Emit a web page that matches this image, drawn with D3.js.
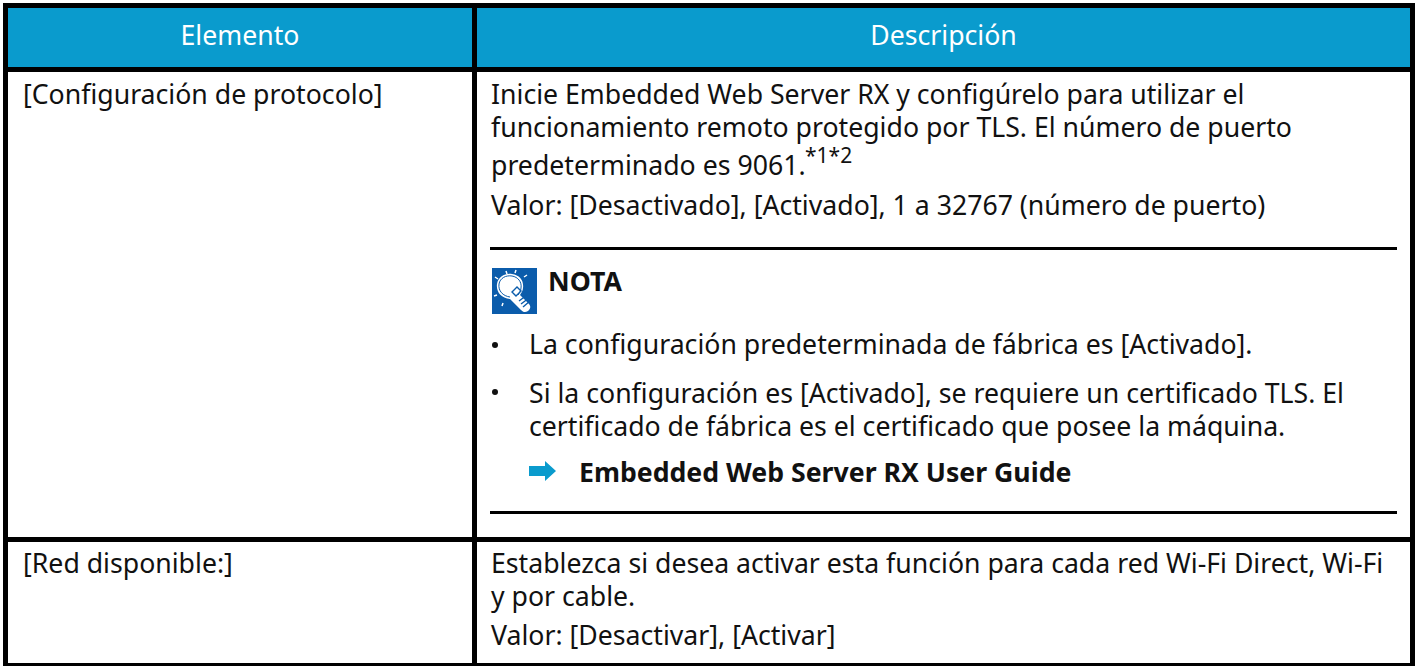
<!DOCTYPE html>
<html>
<head>
<meta charset="utf-8">
<script src="https://cdn.jsdelivr.net/npm/d3@7"></script>
<style>
html, body { margin:0; padding:0; background:#fff; }
svg { display:block; }
text { font-family:"Noto Sans", sans-serif; font-size:26.67px; fill:#111; }
</style>
</head>
<body>
<svg id="table"></svg>
<script>
// table content
var columns = ["Elemento", "Descripción"];
var rowLabels = ["[Configuración de protocolo]", "[Red disponible:]"];
var row1Lines = [
    "Inicie Embedded Web Server RX y configúrelo para utilizar el",
    "funcionamiento remoto protegido por TLS. El número de puerto",
    "predeterminado es 9061.",
    "Valor: [Desactivado], [Activado], 1 a 32767 (número de puerto)"
];
var footnoteMarks = "*1*2";
var noteTitle = "NOTA";
var noteLines = [
    "La configuración predeterminada de fábrica es [Activado].",
    "Si la configuración es [Activado], se requiere un certificado TLS. El",
    "certificado de fábrica es el certificado que posee la máquina."
];
var noteBullets = [0, 1];
var linkText = "Embedded Web Server RX User Guide";
var row2Lines = [
    "Establezca si desea activar esta función para cada red Wi-Fi Direct, Wi-Fi",
    "y por cable.",
    "Valor: [Desactivar], [Activar]"
];

var screen = {width: 1417, height: 666};
var blue = "#0a9bcd";
var svg = d3.select("#table").attr("width", screen.width).attr("height", screen.height);

var xEdge = d3.scaleOrdinal().domain(["left", "mid", "right"]).range([5.5, 474.5, 1412.5]);
var yEdge = d3.scaleOrdinal().domain(["top", "head", "row1", "bottom"]).range([5.5, 69.5, 539.5, 665.5]);

// header fill
svg.append("rect")
    .attr("x", xEdge("left")).attr("y", yEdge("top"))
    .attr("width", xEdge("right") - xEdge("left"))
    .attr("height", yEdge("head") - yEdge("top"))
    .attr("fill", blue);

// grid lines
var grid = svg.append("g").attr("stroke", "#000").attr("stroke-width", 5);
["left", "mid", "right"].forEach(function (k) {
    grid.append("line")
        .attr("x1", xEdge(k)).attr("x2", xEdge(k))
        .attr("y1", 3).attr("y2", screen.height);
});
["top", "head", "row1", "bottom"].forEach(function (k) {
    grid.append("line")
        .attr("x1", 3).attr("x2", 1415)
        .attr("y1", yEdge(k)).attr("y2", yEdge(k));
});

// header text
svg.selectAll("text.head")
    .data(columns)
    .enter()
    .append("text")
    .attr("class", "head")
    .attr("text-anchor", "middle")
    .attr("x", function (d, i) { return i == 0 ? (xEdge("left") + xEdge("mid")) / 2 : (xEdge("mid") + xEdge("right")) / 2; })
    .attr("y", 45)
    .style("fill", "#fff")
    .text(function (d) { return d; });

var drawLines = function (lines, x, y0, step) {
    svg.append("g").selectAll("text")
        .data(lines)
        .enter()
        .append("text")
        .attr("x", x)
        .attr("y", function (d, i) { return y0 + i * step; })
        .text(function (d) { return d; });
};

// first column
svg.selectAll("text.label")
    .data(rowLabels)
    .enter()
    .append("text")
    .attr("class", "label")
    .attr("x", 23)
    .attr("y", function (d, i) { return i == 0 ? 104 : 573; })
    .text(function (d) { return d; });

// row 1
drawLines(row1Lines.slice(0, 2), 491, 104, 32.5);
drawLines(row1Lines.slice(2, 3), 491, 175, 0);
drawLines(row1Lines.slice(3), 491, 215, 0);
svg.append("text").attr("x", 805).attr("y", 163).style("font-size", "21px").text(footnoteMarks);

// note rules
var rules = svg.append("g").attr("stroke", "#000").attr("stroke-width", 3);
[248.5, 512.5].forEach(function (y) {
    rules.append("line").attr("x1", 490).attr("x2", 1397).attr("y1", y).attr("y2", y);
});

// note icon
var icon = svg.append("g").attr("transform", "translate(492,268)");
icon.append("rect").attr("width", 45).attr("height", 46).attr("fill", "#0b5cab");
icon.append("path")
    .attr("d", "M18 31 C9 30 4 24 5 16 C6 9 13 5 20 6 C28 7 32 13 31 20 C31 23 29 25 28 27 L36 35 C39 38 39 40 36 43 C33 45 31 44 29 42 Z")
    .attr("fill", "#fff");
icon.append("path")
    .attr("d", "M18 29 C11 28 6 23 7 16 C8 10 14 7 20 8 C26 9 30 14 29 20 C29 23 27 25 26 27")
    .attr("fill", "none").attr("stroke", "#0b5cab").attr("stroke-width", 1);
icon.append("path")
    .attr("d", "M20 24 L25 19 L29 23 L24 28 Z M27 33 L35 27 M29 36 L37 30 M31 39 L38 33")
    .attr("fill", "none").attr("stroke", "#0b5cab").attr("stroke-width", 1.4);
icon.append("path")
    .attr("d", "M14 3 L15 6 M24 2 L23 5 M35 7 L32 9 M3 9 L6 11 M2 28 L5 27 M10 38 L11 35")
    .attr("stroke", "#fff").attr("stroke-width", 1.5);

svg.append("text").attr("x", 548).attr("y", 291).style("font-weight", 700).text(noteTitle);

// note body
svg.selectAll("circle.bullet")
    .data(noteBullets)
    .enter()
    .append("circle")
    .attr("class", "bullet")
    .attr("cx", 495)
    .attr("cy", function (d) { return d == 0 ? 345 : 392; })
    .attr("r", 3)
    .attr("fill", "#111");
drawLines(noteLines.slice(0, 1), 529, 354, 0);
drawLines(noteLines.slice(1), 529, 403, 33);

// link
svg.append("path")
    .attr("d", d3.line()([[529, 466], [545, 466], [545, 461], [556, 471], [545, 481], [545, 476], [529, 476]]) + "Z")
    .attr("fill", blue);
svg.append("text").attr("x", 579).attr("y", 482).style("font-weight", 700).text(linkText);

// row 2
drawLines(row2Lines.slice(0, 2), 491, 573, 33);
drawLines(row2Lines.slice(2), 491, 645, 0);
</script>
</body>
</html>
